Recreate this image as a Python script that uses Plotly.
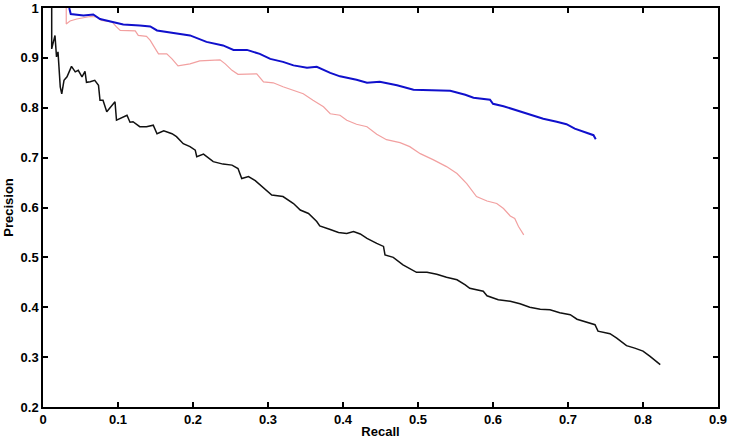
import plotly.graph_objects as go

# ---- data ----
blue_recall = [0.035, 0.037, 0.054, 0.067, 0.076, 0.092, 0.107, 0.129, 0.143, 0.152, 0.174, 0.196,
               0.218, 0.240, 0.254, 0.272, 0.289, 0.303, 0.320, 0.334, 0.352, 0.365, 0.383, 0.396,
               0.418, 0.432, 0.449, 0.472, 0.494, 0.516, 0.543, 0.563, 0.574, 0.596, 0.600, 0.614,
               0.632, 0.649, 0.667, 0.685, 0.698, 0.709, 0.725, 0.734, 0.737]
blue_precision = [1.0, 0.988, 0.985, 0.987, 0.978, 0.972, 0.967, 0.965, 0.963, 0.955, 0.950, 0.945,
                  0.932, 0.925, 0.916, 0.916, 0.908, 0.898, 0.892, 0.885, 0.880, 0.882, 0.870, 0.863,
                  0.856, 0.850, 0.852, 0.845, 0.836, 0.835, 0.834, 0.826, 0.820, 0.816, 0.808, 0.803,
                  0.794, 0.787, 0.778, 0.772, 0.767, 0.758, 0.750, 0.745, 0.737]

pink_recall = [0.031, 0.031, 0.036, 0.045, 0.063, 0.072, 0.078, 0.092, 0.098, 0.103, 0.123, 0.127,
               0.138, 0.143, 0.147, 0.154, 0.165, 0.172, 0.180, 0.196, 0.209, 0.223, 0.236, 0.243,
               0.252, 0.260, 0.272, 0.285, 0.294, 0.307, 0.320, 0.334, 0.347, 0.360, 0.374, 0.383,
               0.396, 0.405, 0.418, 0.432, 0.445, 0.458, 0.476, 0.489, 0.503, 0.520, 0.538, 0.552,
               0.563, 0.565, 0.578, 0.592, 0.605, 0.614, 0.623, 0.629, 0.634, 0.641]
pink_precision = [1.0, 0.968, 0.974, 0.978, 0.983, 0.982, 0.975, 0.972, 0.962, 0.955, 0.954, 0.945,
                  0.943, 0.935, 0.925, 0.908, 0.908, 0.898, 0.884, 0.888, 0.894, 0.895, 0.896, 0.888,
                  0.875, 0.867, 0.868, 0.868, 0.852, 0.850, 0.842, 0.835, 0.828, 0.815, 0.802, 0.788,
                  0.785, 0.775, 0.767, 0.762, 0.747, 0.736, 0.730, 0.722, 0.708, 0.696, 0.682, 0.668,
                  0.652, 0.648, 0.622, 0.613, 0.608, 0.598, 0.583, 0.578, 0.562, 0.545]

black_recall = [0.0116, 0.0116, 0.016, 0.018, 0.020, 0.023, 0.025, 0.028, 0.032, 0.038, 0.043, 0.047,
                0.052, 0.056, 0.058, 0.063, 0.069, 0.074, 0.076, 0.080, 0.085, 0.096, 0.098, 0.105,
                0.112, 0.116, 0.120, 0.129, 0.138, 0.147, 0.152, 0.161, 0.172, 0.178, 0.187, 0.196,
                0.203, 0.205, 0.214, 0.227, 0.240, 0.252, 0.260, 0.265, 0.274, 0.283, 0.296, 0.305,
                0.320, 0.334, 0.343, 0.354, 0.365, 0.369, 0.383, 0.394, 0.405, 0.414, 0.423, 0.432,
                0.445, 0.454, 0.456, 0.467, 0.480, 0.498, 0.512, 0.525, 0.538, 0.552, 0.563, 0.569,
                0.587, 0.592, 0.607, 0.623, 0.636, 0.649, 0.663, 0.676, 0.689, 0.703, 0.712, 0.725,
                0.736, 0.740, 0.756, 0.765, 0.778, 0.789, 0.800, 0.809, 0.823]
black_precision = [1.0, 0.918, 0.945, 0.902, 0.912, 0.842, 0.828, 0.855, 0.862, 0.883, 0.872, 0.875,
                   0.862, 0.873, 0.851, 0.852, 0.855, 0.845, 0.815, 0.815, 0.792, 0.812, 0.775, 0.780,
                   0.785, 0.771, 0.772, 0.762, 0.762, 0.765, 0.748, 0.754, 0.748, 0.742, 0.728, 0.722,
                   0.715, 0.702, 0.707, 0.692, 0.687, 0.685, 0.678, 0.658, 0.662, 0.654, 0.638, 0.625,
                   0.622, 0.608, 0.595, 0.588, 0.572, 0.563, 0.556, 0.550, 0.548, 0.552, 0.547, 0.538,
                   0.528, 0.522, 0.505, 0.500, 0.485, 0.470, 0.470, 0.466, 0.460, 0.455, 0.445, 0.438,
                   0.432, 0.423, 0.415, 0.412, 0.407, 0.400, 0.396, 0.395, 0.389, 0.385, 0.376, 0.370,
                   0.365, 0.352, 0.347, 0.338, 0.323, 0.318, 0.312, 0.302, 0.285]

x_ticks = [0, 0.1, 0.2, 0.3, 0.4, 0.5, 0.6, 0.7, 0.8, 0.9]
x_ticklabels = ["0", "0.1", "0.2", "0.3", "0.4", "0.5", "0.6", "0.7", "0.8", "0.9"]
y_ticks = [0.2, 0.3, 0.4, 0.5, 0.6, 0.7, 0.8, 0.9, 1.0]
y_ticklabels = ["0.2", "0.3", "0.4", "0.5", "0.6", "0.7", "0.8", "0.9", "1"]

FONT = "Liberation Sans, Arial, sans-serif"

fig = go.Figure()
fig.add_trace(go.Scatter(x=black_recall, y=black_precision, mode="lines",
                         line=dict(color="#111111", width=1.5), showlegend=False))
fig.add_trace(go.Scatter(x=pink_recall, y=pink_precision, mode="lines",
                         line=dict(color="#f2a0a0", width=1.2), showlegend=False))
fig.add_trace(go.Scatter(x=blue_recall, y=blue_precision, mode="lines",
                         line=dict(color="#1010cc", width=2), showlegend=False))

axis_common = dict(showline=True, linecolor="black", linewidth=1.5, mirror="ticks",
                   ticks="inside", ticklen=5, tickwidth=1.5, tickcolor="black",
                   showgrid=False, zeroline=False,
                   tickfont=dict(family=FONT, size=13, color="black", weight="bold"))

fig.update_xaxes(range=[0, 0.9], tickvals=x_ticks, ticktext=x_ticklabels,
                 title=dict(text="Recall", font=dict(family=FONT, size=13, color="black", weight="bold"),
                            standoff=1),
                 **axis_common)
fig.update_yaxes(range=[0.2, 1.0], tickvals=y_ticks, ticktext=y_ticklabels,
                 title=dict(text="Precision", font=dict(family=FONT, size=13, color="black", weight="bold"),
                            standoff=4),
                 **axis_common)

fig.update_layout(width=731, height=442, plot_bgcolor="white", paper_bgcolor="white",
                  margin=dict(l=43, r=13, t=8, b=35, autoexpand=False))

fig.write_html("out.html", config={"displayModeBar": False},
               post_script="document.body.style.margin='0';document.body.style.overflow='hidden';")
